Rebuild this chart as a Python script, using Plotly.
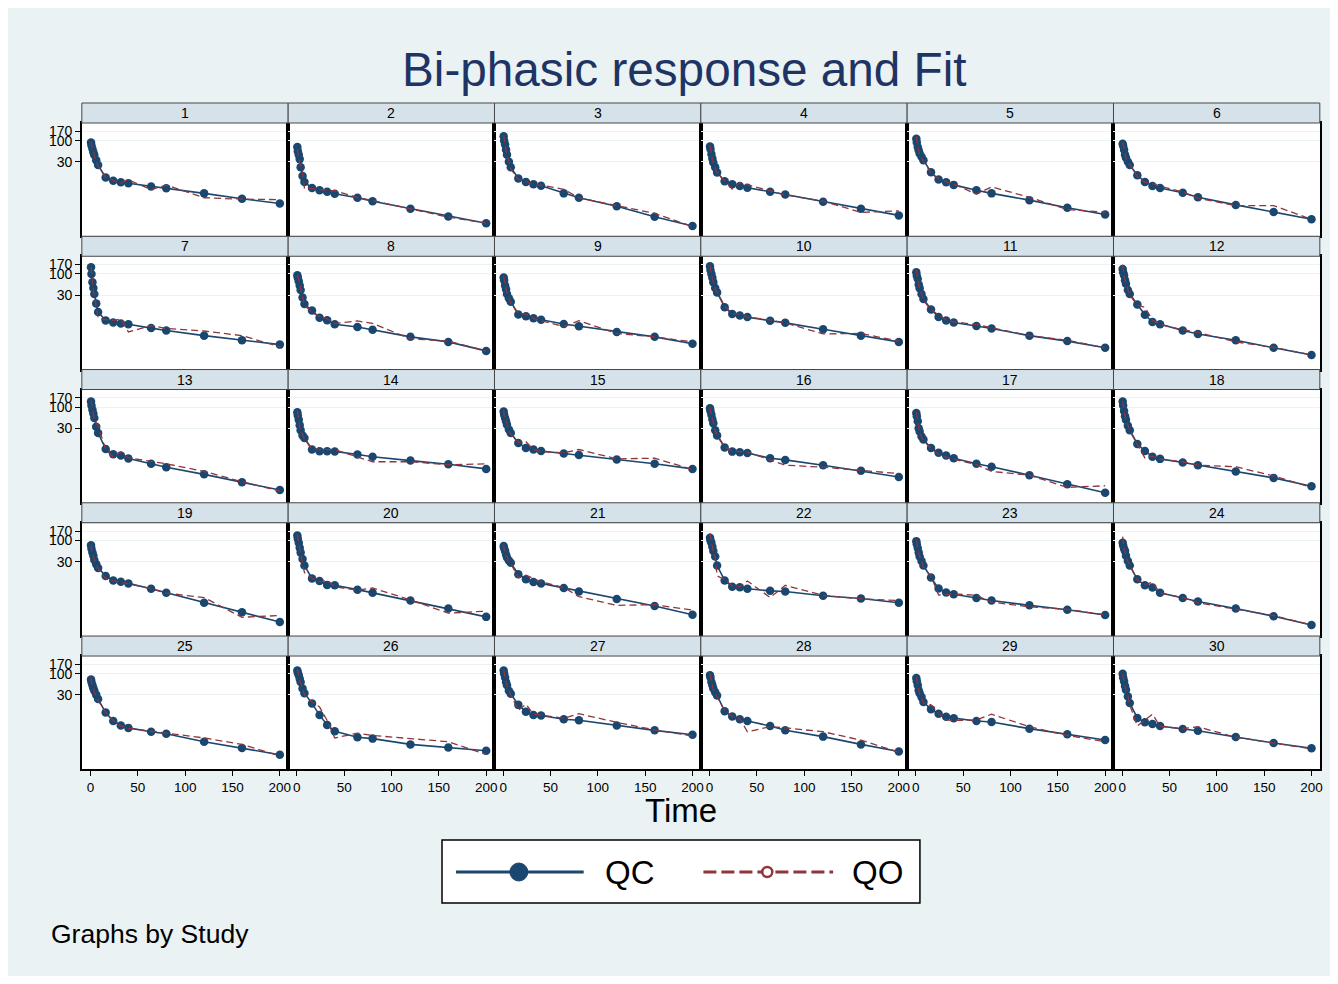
import plotly.graph_objects as go

# ---------------- data ----------------
times = [0.5, 1, 2, 3, 4, 6, 8, 16, 24, 32, 40, 64, 80, 120, 160, 200]
studies = list(range(1, 31))
y_ticks = [30, 100, 170]
x_ticks = [0, 50, 100, 150, 200]

qc_s1 = [90, 76, 63, 52, 44, 33, 25, 12.3, 10.3, 9.4, 8.9, 7.4, 6.7, 5.0, 3.7, 2.8]
qo_s1 = [95, 80, 60, 55, 42, 30, 24, 12.5, 10.5, 9.0, 10.8, 6.2, 8.0, 3.9, 3.6, 3.5]
qc_s2 = [70, 55, 45, 35, 22, 13.5, 9.5, 6.8, 6.0, 5.5, 4.9, 3.9, 3.2, 2.1, 1.35, 0.92]
qo_s2 = [62, 50, 40, 30, 25, 17, 6.7, 6.6, 6.3, 5.9, 5.8, 4.0, 3.3, 2.1, 1.3, 0.92]
qc_s3 = [128, 100, 80, 60, 45, 30, 22, 11.7, 9.6, 8.4, 7.7, 5.0, 3.9, 2.4, 1.33, 0.78]
qo_s3 = [135, 110, 75, 62, 42, 32, 20, 11, 9.8, 8.0, 8.0, 6.3, 3.9, 2.5, 1.6, 0.76]
qc_s4 = [72, 62, 47, 36, 29, 22, 16.4, 10, 8.4, 7.6, 6.9, 5.5, 4.7, 3.1, 2.1, 1.43]
qo_s4 = [75, 58, 50, 34, 30, 21, 16, 10.2, 6.4, 9.1, 8.1, 5.8, 4.6, 3.2, 1.7, 1.85]
qc_s5 = [112, 90, 70, 58, 48, 40, 33, 16.5, 11, 9.4, 8.1, 6.0, 5.0, 3.4, 2.2, 1.5]
qo_s5 = [125, 95, 68, 60, 45, 38, 31, 16, 11.5, 9.6, 8.5, 4.8, 7.2, 4.0, 2.0, 1.7]
qc_s6 = [84, 75, 60, 45, 38, 30, 25, 14, 9.6, 7.6, 6.8, 5.2, 4.0, 2.6, 1.73, 1.15]
qo_s6 = [90, 70, 62, 48, 36, 28, 26, 13, 9.4, 8.8, 7.5, 5.4, 3.8, 2.5, 2.5, 1.15]
qc_s7 = [145, 100, 62, 45, 32, 18.5, 11.5, 7.1, 6.3, 6.0, 5.7, 4.6, 4.0, 3.0, 2.3, 1.8]
qo_s7 = [150, 105, 60, 38, 30, 17, 8.0, 7.5, 7.1, 7.7, 3.7, 5.3, 4.5, 3.9, 3.0, 1.6]
qc_s8 = [92, 80, 66, 52, 40, 26, 18, 12.5, 8.3, 7.2, 5.7, 4.9, 4.2, 2.8, 2.1, 1.26]
qo_s8 = [95, 78, 70, 55, 45, 28, 17, 11, 9.0, 7.8, 6.0, 6.9, 6.0, 2.5, 2.2, 1.25]
qc_s9 = [82, 70, 52, 42, 32, 25, 20.5, 10, 9.0, 8.0, 7.4, 5.8, 5.1, 3.7, 2.8, 1.9]
qo_s9 = [88, 65, 55, 40, 34, 24, 19, 10.5, 10.2, 8.0, 7.0, 5.0, 7.0, 3.4, 2.8, 2.1]
qc_s10 = [155, 125, 100, 80, 62, 45, 35, 15, 10.3, 9.4, 8.6, 7.0, 6.2, 4.3, 3.0, 2.1]
qo_s10 = [160, 130, 95, 75, 65, 42, 36, 16, 10.5, 10.3, 8.6, 7.3, 6.2, 3.3, 3.4, 2.2]
qc_s11 = [110, 90, 76, 55, 44, 32, 24, 13.3, 8.6, 7.1, 6.3, 5.2, 4.5, 3.0, 2.2, 1.5]
qo_s11 = [125, 95, 70, 58, 42, 33, 22, 13, 9.6, 7.3, 6.6, 5.6, 4.7, 3.0, 2.3, 1.5]
qc_s12 = [132, 110, 92, 70, 57, 40, 32, 17.6, 9.8, 6.5, 5.7, 4.0, 3.3, 2.3, 1.5, 1.0]
qo_s12 = [168, 120, 85, 72, 55, 42, 30, 17, 15, 7.2, 5.6, 4.2, 3.6, 2.1, 1.55, 1.0]
qc_s13 = [138, 110, 86, 70, 54, 33, 23, 9.3, 6.9, 6.4, 5.4, 4.0, 3.3, 2.2, 1.4, 0.9]
qo_s13 = [145, 105, 90, 65, 50, 40, 35, 9.0, 5.8, 7.8, 5.6, 4.6, 4.0, 2.6, 1.45, 0.85]
qc_s14 = [75, 62, 49, 36, 27, 20, 17.4, 9.0, 8.2, 8.2, 8.1, 6.8, 6.0, 4.8, 3.9, 3.0]
qo_s14 = [80, 60, 52, 34, 26, 21, 16, 9.3, 9.0, 9.0, 8.9, 5.8, 4.5, 4.5, 3.8, 4.0]
qc_s15 = [78, 65, 54, 45, 37, 28, 23, 13, 9.8, 9.0, 8.3, 7.2, 6.6, 5.1, 4.0, 3.0]
qo_s15 = [85, 62, 56, 42, 38, 27, 22, 13.5, 14, 9.0, 8.0, 7.5, 9.0, 5.3, 5.5, 2.9]
qc_s16 = [94, 80, 65, 50, 40, 27, 20, 10.1, 8.0, 7.7, 7.4, 5.5, 5.0, 3.7, 2.7, 1.9]
qo_s16 = [100, 75, 68, 48, 42, 26, 21, 10.5, 8.2, 8.0, 7.8, 5.0, 3.7, 3.3, 2.8, 2.3]
qc_s17 = [72, 60, 45, 30, 25, 19, 16, 9.8, 7.5, 6.4, 5.5, 4.0, 3.4, 2.1, 1.26, 0.77]
qo_s17 = [75, 58, 48, 32, 24, 18, 15, 9.5, 7.0, 5.8, 5.2, 3.8, 2.6, 2.1, 1.05, 1.15]
qc_s18 = [138, 110, 80, 60, 49, 35, 27, 12.4, 8.3, 6.0, 5.3, 4.3, 3.7, 2.6, 1.8, 1.12]
qo_s18 = [140, 115, 75, 62, 45, 37, 26, 12, 5.6, 6.2, 5.2, 4.5, 3.7, 3.4, 2.0, 1.05]
qc_s19 = [76, 62, 50, 42, 33, 26, 21, 13.3, 10.3, 9.5, 8.7, 6.4, 5.1, 2.9, 1.7, 0.97]
qo_s19 = [80, 65, 48, 40, 34, 25, 20, 11.5, 10.0, 9.3, 8.5, 6.5, 5.0, 3.9, 1.27, 1.4]
qc_s20 = [132, 110, 88, 66, 50, 35, 24, 11.5, 10.0, 8.0, 7.8, 6.1, 5.1, 3.3, 2.1, 1.3]
qo_s20 = [140, 105, 90, 62, 48, 30, 16, 11.8, 9.5, 10.3, 7.2, 5.9, 6.7, 3.4, 1.6, 1.8]
qc_s21 = [73, 64, 55, 45, 38, 32, 28, 14.6, 11, 9.4, 8.7, 6.7, 5.5, 3.6, 2.4, 1.46]
qo_s21 = [78, 60, 57, 42, 40, 30, 27, 12, 13.8, 11.5, 9.5, 6.9, 4.1, 2.5, 2.6, 1.9]
qc_s22 = [116, 100, 88, 70, 55, 40, 24, 10.3, 7.2, 7.0, 6.4, 5.7, 5.5, 4.3, 3.7, 2.9]
qo_s22 = [150, 105, 85, 72, 52, 38, 13.3, 10.8, 7.6, 7.2, 10.0, 3.9, 7.8, 4.4, 3.6, 3.3]
qc_s23 = [96, 80, 65, 50, 40, 31, 24, 12.1, 6.5, 5.2, 4.7, 3.8, 3.3, 2.5, 1.95, 1.45]
qo_s23 = [100, 78, 68, 48, 42, 30, 22, 13, 4.5, 4.6, 4.8, 4.4, 3.0, 2.3, 2.0, 1.45]
qc_s24 = [88, 75, 62, 55, 42, 31, 24, 11, 7.8, 6.9, 5.1, 3.8, 3.1, 2.1, 1.35, 0.82]
qo_s24 = [124, 80, 60, 52, 44, 30, 25, 10.5, 8.0, 9.3, 5.0, 3.9, 2.9, 2.0, 1.4, 0.82]
qc_s25 = [72, 62, 52, 44, 38, 30, 23.6, 11, 6.8, 5.3, 4.6, 3.7, 3.3, 2.1, 1.46, 1.0]
qo_s25 = [78, 60, 55, 42, 36, 28, 22, 11, 7.0, 5.1, 4.5, 3.8, 3.4, 2.6, 1.8, 0.93]
qc_s26 = [120, 105, 92, 75, 62, 43, 33, 18.5, 9.5, 5.4, 3.8, 2.7, 2.5, 1.8, 1.5, 1.25]
qo_s26 = [130, 110, 90, 70, 60, 45, 30, 20, 15, 7.0, 2.6, 3.4, 3.0, 2.5, 2.1, 1.02]
qc_s27 = [120, 100, 80, 62, 52, 38, 32, 17, 11.5, 9.5, 9.3, 7.5, 7.1, 5.3, 4.0, 3.1]
qo_s27 = [125, 95, 82, 60, 50, 40, 30, 12.6, 17.6, 10, 9.5, 8.0, 10.3, 6.3, 4.1, 2.9]
qc_s28 = [92, 80, 62, 52, 43, 35, 29, 11.8, 8.8, 7.5, 6.8, 5.1, 4.0, 2.8, 1.8, 1.2]
qo_s28 = [100, 85, 60, 50, 40, 34, 27, 12.2, 9.0, 7.8, 3.7, 4.9, 4.6, 3.7, 2.3, 1.15]
qc_s29 = [78, 65, 52, 39, 33, 26.4, 20, 13.3, 10.3, 8.7, 8.0, 6.8, 6.4, 4.4, 3.2, 2.3]
qo_s29 = [82, 62, 55, 42, 32, 25, 19, 17, 10.5, 7.2, 7.0, 7.2, 10.0, 4.9, 3.0, 2.1]
qc_s30 = [100, 80, 65, 50, 40, 27.5, 18.8, 8.1, 6.3, 5.7, 5.1, 4.3, 3.9, 2.75, 1.95, 1.45]
qo_s30 = [98, 85, 60, 52, 38, 30, 17, 5.1, 7.2, 10.0, 5.0, 4.4, 4.9, 2.7, 1.95, 1.4]

qc_all = [qc_s1, qc_s2, qc_s3, qc_s4, qc_s5, qc_s6, qc_s7, qc_s8, qc_s9, qc_s10,
          qc_s11, qc_s12, qc_s13, qc_s14, qc_s15, qc_s16, qc_s17, qc_s18, qc_s19, qc_s20,
          qc_s21, qc_s22, qc_s23, qc_s24, qc_s25, qc_s26, qc_s27, qc_s28, qc_s29, qc_s30]
qo_all = [qo_s1, qo_s2, qo_s3, qo_s4, qo_s5, qo_s6, qo_s7, qo_s8, qo_s9, qo_s10,
          qo_s11, qo_s12, qo_s13, qo_s14, qo_s15, qo_s16, qo_s17, qo_s18, qo_s19, qo_s20,
          qo_s21, qo_s22, qo_s23, qo_s24, qo_s25, qo_s26, qo_s27, qo_s28, qo_s29, qo_s30]

# ---------------- style ----------------
W, H = 1322, 968          # page body adds an 8px margin around the figure
OFF = 8
FONT = "Liberation Sans, Arial, Helvetica, sans-serif"
BG = "rgb(234,242,243)"
STRIP = "rgb(214,226,233)"
GRID = "rgb(234,242,243)"
NAVY = "rgb(26,71,111)"
MAROON = "rgb(144,53,59)"
TITLE_C = "rgb(30,52,100)"

NCOL, NROW = 6, 5
X0, COLW = 82.0, 206.8
Y0, ROWH, STRIPH = 103.0, 133.26, 20.0
PLOTH = 113.3


def px(x):
    return (x - OFF) / W


def py(y):
    return 1 - (y - OFF) / H


fig = go.Figure()
layout_axes = {}
shapes = []
annotations = []

for k, s in enumerate(studies):
    r, c = divmod(k, NCOL)
    xl, xr = X0 + COLW * c, X0 + COLW * (c + 1)
    st = Y0 + ROWH * r
    pt = st + STRIPH
    pb = pt + PLOTH
    xa = "x" if k == 0 else f"x{k+1}"
    ya = "y" if k == 0 else f"y{k+1}"
    xname = "xaxis" if k == 0 else f"xaxis{k+1}"
    yname = "yaxis" if k == 0 else f"yaxis{k+1}"
    bottom = r == NROW - 1
    left = c == 0
    layout_axes[xname] = dict(
        domain=[px(xl), px(xr)], anchor=ya, range=[-9.2, 208.8],
        showgrid=False, zeroline=False, showline=True, mirror=True,
        linecolor="black", linewidth=1.5,
        tickvals=x_ticks, showticklabels=bottom,
        ticks="outside" if bottom else "", ticklen=5, tickwidth=1, tickcolor="black",
        tickfont=dict(family=FONT, size=13.5, color="black"),
    )
    layout_axes[yname] = dict(
        domain=[py(pb), py(pt)], anchor=xa, type="log", range=[-0.36, 2.435],
        tickvals=y_ticks, ticktext=[str(v) for v in y_ticks],
        showgrid=True, gridcolor=GRID, gridwidth=1.2, zeroline=False,
        showline=True, mirror=True, linecolor="black", linewidth=1.5,
        showticklabels=left, ticks="outside" if left else "", ticklen=5,
        tickwidth=1, tickcolor="black",
        tickfont=dict(family=FONT, size=14, color="black"),
    )
    fig.add_trace(go.Scatter(
        x=times, y=qc_all[k], xaxis=xa, yaxis=ya, mode="lines+markers",
        line=dict(color=NAVY, width=1.6),
        marker=dict(color=NAVY, size=8.5, symbol="circle"),
        name="QC", showlegend=False, cliponaxis=False))
    fig.add_trace(go.Scatter(
        x=times, y=qo_all[k], xaxis=xa, yaxis=ya, mode="lines+markers",
        line=dict(color=MAROON, width=1.3, dash="7px,4px"),
        marker=dict(color="rgba(0,0,0,0)", size=6, symbol="circle-open",
                    line=dict(color=MAROON, width=1.2)),
        name="QO", showlegend=False, cliponaxis=False))
    # strip header
    shapes.append(dict(type="rect", xref="paper", yref="paper",
                       x0=px(xl), x1=px(xr), y0=py(pt), y1=py(st),
                       fillcolor=STRIP, line=dict(color="rgb(70,70,70)", width=1),
                       layer="above"))
    annotations.append(dict(text=str(s), x=px((xl + xr) / 2), y=py((st + pt) / 2),
                            xref="paper", yref="paper", showarrow=False,
                            xanchor="center", yanchor="middle",
                            font=dict(family=FONT, size=14, color="black")))

# legend box (drawn manually)
LY = 872
shapes.append(dict(type="rect", xref="paper", yref="paper",
                   x0=px(443), x1=px(922), y0=py(903), y1=py(840),
                   fillcolor="white", line=dict(color="black", width=1.5), layer="above"))
shapes.append(dict(type="line", xref="paper", yref="paper",
                   x0=px(457), x1=px(585), y0=py(LY), y1=py(LY),
                   line=dict(color=NAVY, width=3), layer="above"))
shapes.append(dict(type="circle", xref="paper", yref="paper",
                   x0=px(511), x1=px(529), y0=py(LY + 9), y1=py(LY - 9),
                   fillcolor=NAVY, line=dict(color=NAVY, width=1), layer="above"))
shapes.append(dict(type="line", xref="paper", yref="paper",
                   x0=px(705), x1=px(835), y0=py(LY), y1=py(LY),
                   line=dict(color=MAROON, width=3, dash="13px,5px"), layer="above"))
shapes.append(dict(type="circle", xref="paper", yref="paper",
                   x0=px(764), x1=px(774), y0=py(LY + 5), y1=py(LY - 5),
                   fillcolor="white", line=dict(color=MAROON, width=2.5), layer="above"))
annotations.append(dict(text="QC", x=px(604), y=py(LY), xref="paper", yref="paper",
                        showarrow=False, xanchor="left", yanchor="middle",
                        font=dict(family=FONT, size=33, color="black")))
annotations.append(dict(text="QO", x=px(852), y=py(LY), xref="paper", yref="paper",
                        showarrow=False, xanchor="left", yanchor="middle",
                        font=dict(family=FONT, size=33, color="black")))

# title, axis title, note
annotations.append(dict(text="Bi-phasic response and Fit", x=px(686), y=py(70),
                        xref="paper", yref="paper", showarrow=False,
                        xanchor="center", yanchor="middle",
                        font=dict(family=FONT, size=47.7, color=TITLE_C)))
annotations.append(dict(text="Time", x=px(683), y=py(810), xref="paper", yref="paper",
                        showarrow=False, xanchor="center", yanchor="middle",
                        font=dict(family=FONT, size=33, color="black")))
annotations.append(dict(text="Graphs by Study", x=px(49), y=py(934), xref="paper",
                        yref="paper", showarrow=False, xanchor="left", yanchor="middle",
                        font=dict(family=FONT, size=26.5, color="black")))

fig.update_layout(
    width=W, height=H, margin=dict(l=0, r=0, t=0, b=0),
    paper_bgcolor=BG, plot_bgcolor="white", showlegend=False,
    shapes=shapes, annotations=annotations, **layout_axes,
)

fig.write_html("out.html")
